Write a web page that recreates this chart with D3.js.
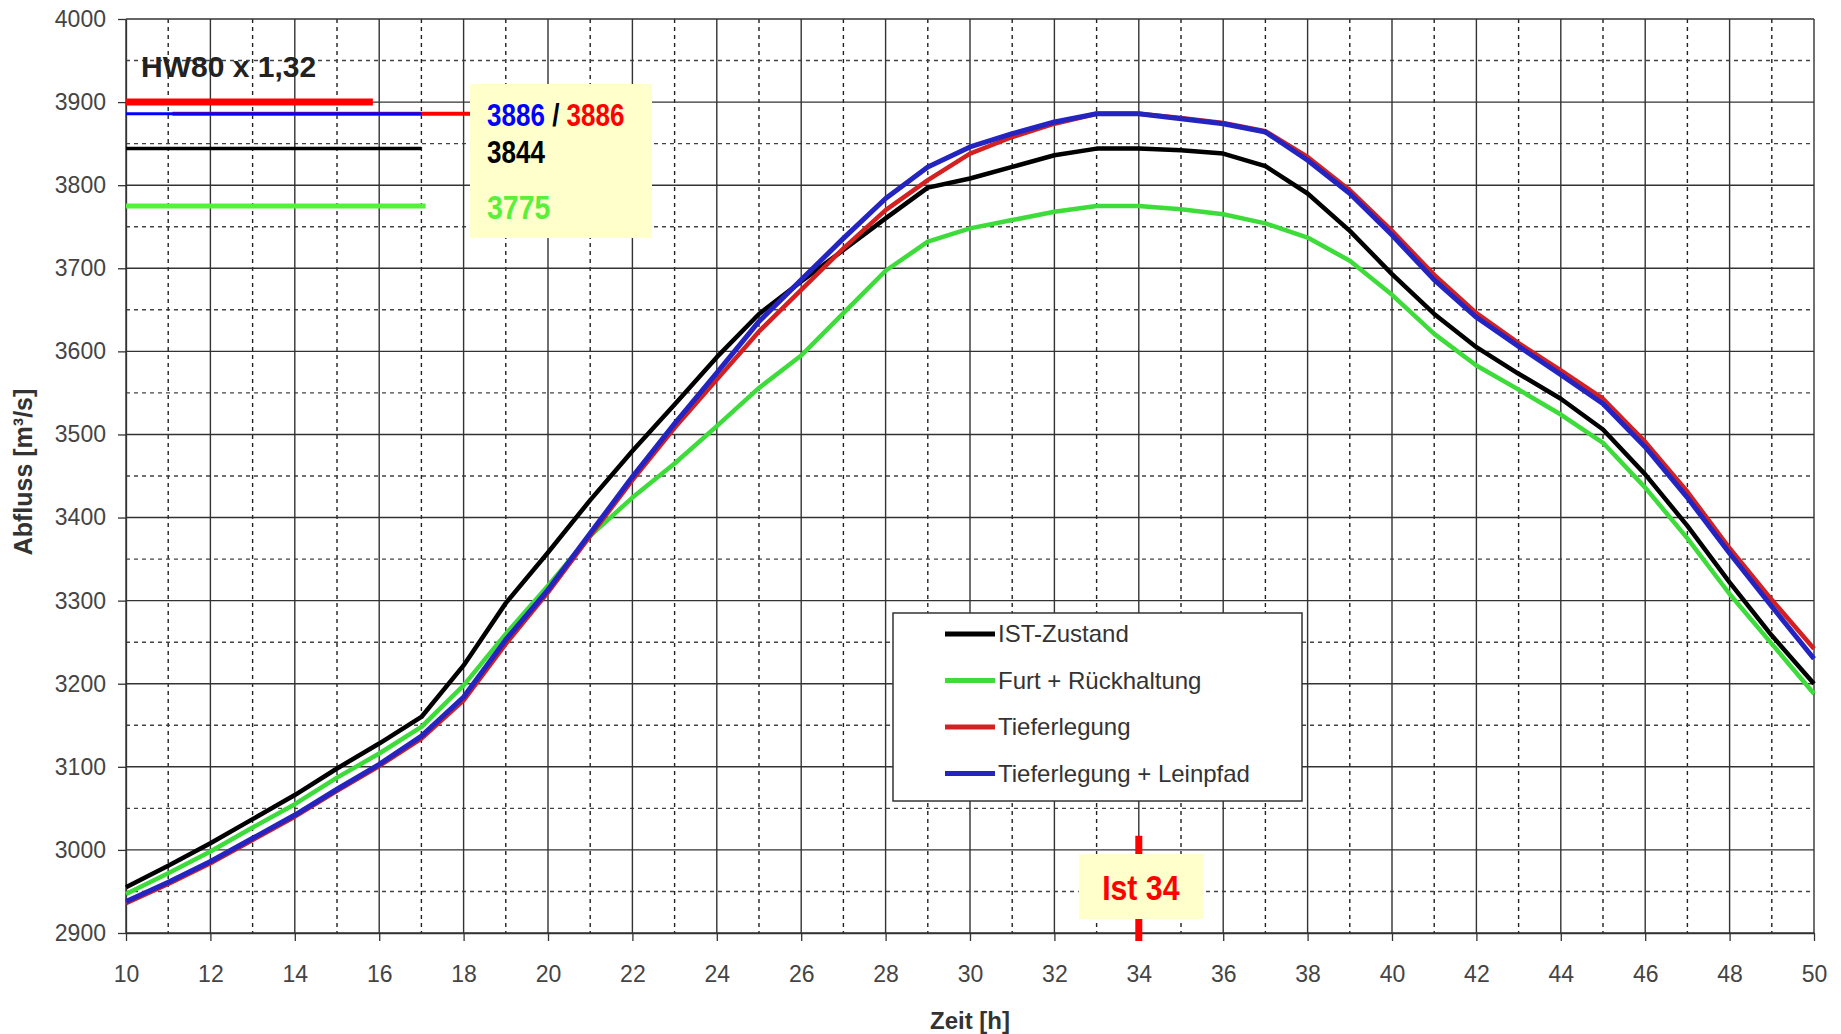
<!DOCTYPE html>
<html>
<head>
<meta charset="utf-8">
<script src="https://cdnjs.cloudflare.com/ajax/libs/d3/7.8.5/d3.min.js"></script>
<style>
body { margin: 0; background: #fff; }
svg { display: block; font-family: "Liberation Sans", Arial, sans-serif; }
.narrow { font-family: "Liberation Sans Narrow", "Arial Narrow", "Liberation Sans", sans-serif; font-weight: bold; }
.axis text { font-size: 23px; fill: #444; }
.axis line, .axis path { stroke: #333; stroke-width: 1.3; }
</style>
</head>
<body>
<script>
// data
var hours = [10, 11, 12, 13, 14, 15, 16, 17, 18, 19, 20, 21, 22, 23, 24, 25, 26, 27, 28, 29, 30,
             31, 32, 33, 34, 35, 36, 37, 38, 39, 40, 41, 42, 43, 44, 45, 46, 47, 48, 49, 50];
var istZustand = [2955, 2981, 3008, 3037, 3066, 3098, 3128, 3160, 3222, 3297, 3358, 3421, 3480, 3536,
                  3593, 3645, 3684, 3722, 3760, 3797, 3808, 3822, 3836, 3844, 3844, 3842, 3838, 3823,
                  3790, 3745, 3693, 3645, 3605, 3573, 3543, 3506, 3452, 3390, 3322, 3258, 3200];
var furtRueckhaltung = [2947, 2972, 2998, 3027, 3055, 3087, 3116, 3148, 3198, 3260, 3318, 3378, 3424, 3465,
                        3510, 3556, 3595, 3646, 3697, 3732, 3748, 3758, 3768, 3775, 3775, 3771, 3765, 3754,
                        3737, 3709, 3668, 3621, 3583, 3554, 3524, 3490, 3436, 3375, 3308, 3248, 3188];
var tieferlegung = [2936, 2959, 2984, 3012, 3040, 3071, 3101, 3134, 3180, 3248, 3310, 3378, 3445, 3508,
                    3566, 3624, 3674, 3724, 3770, 3806, 3838, 3858, 3874, 3886, 3886, 3881, 3875, 3865,
                    3834, 3794, 3745, 3692, 3646, 3610, 3577, 3543, 3491, 3431, 3363, 3301, 3242];
var tiefLeinpfad = [2938, 2961, 2986, 3014, 3042, 3073, 3103, 3137, 3184, 3253, 3313, 3381, 3449, 3513,
                    3574, 3636, 3686, 3736, 3784, 3822, 3846, 3862, 3876, 3886, 3886, 3880, 3874, 3864,
                    3830, 3790, 3740, 3686, 3641, 3606, 3572, 3537, 3485, 3424, 3357, 3293, 3230];

var seriesNames = ["IST-Zustand", "Furt + Rückhaltung", "Tieferlegung", "Tieferlegung + Leinpfad"];
var seriesValues = [istZustand, furtRueckhaltung, tieferlegung, tiefLeinpfad];
var seriesColors = ["#000000", "#3ddc3a", "#d42020", "#2424c0"];
var drawOrder = [1, 0, 2, 3];

var peakValues = [3844, 3775, 3886, 3886];
var referenceValue = 3900;
var scenarioTitle = "HW80 x 1,32";
var markHour = 34;
var markLabel = "Ist 34";

var xTicks = [10, 12, 14, 16, 18, 20, 22, 24, 26, 28, 30, 32, 34, 36, 38, 40, 42, 44, 46, 48, 50];
var yTicks = [2900, 3000, 3100, 3200, 3300, 3400, 3500, 3600, 3700, 3800, 3900, 4000];

// speelveld
var margin = {top: 19, right: 27, bottom: 101, left: 126},
    width = 1841 - margin.left - margin.right,
    height = 1034 - margin.top - margin.bottom;

var x = d3.scaleLinear().domain([10, 50]).range([0, width]);
var y = d3.scaleLinear().domain([2900, 4000]).range([height, 0]);

var svg = d3.select("body").append("svg")
    .attr("width", width + margin.left + margin.right)
    .attr("height", height + margin.top + margin.bottom)
  .append("g")
    .attr("transform", "translate(" + margin.left + "," + margin.top + ")");

// grid
var grid = svg.append("g");
grid.selectAll(".vmin")
    .data(d3.range(11, 50, 2))
  .enter().append("line")
    .attr("x1", function(d) { return x(d); })
    .attr("x2", function(d) { return x(d); })
    .attr("y1", 0).attr("y2", height)
    .attr("stroke", "#222").attr("stroke-width", 1.4)
    .attr("stroke-dasharray", "4,4");
grid.selectAll(".hmin")
    .data(d3.range(2950, 4000, 100))
  .enter().append("line")
    .attr("x1", 0).attr("x2", width)
    .attr("y1", function(d) { return y(d); })
    .attr("y2", function(d) { return y(d); })
    .attr("stroke", "#444").attr("stroke-width", 1.4)
    .attr("stroke-dasharray", "4,4");
grid.selectAll(".vmaj")
    .data(xTicks)
  .enter().append("line")
    .attr("x1", function(d) { return x(d); })
    .attr("x2", function(d) { return x(d); })
    .attr("y1", 0).attr("y2", height)
    .attr("stroke", "#333").attr("stroke-width", 1.4);
grid.selectAll(".hmaj")
    .data(yTicks)
  .enter().append("line")
    .attr("x1", 0).attr("x2", width)
    .attr("y1", function(d) { return y(d); })
    .attr("y2", function(d) { return y(d); })
    .attr("stroke", "#333").attr("stroke-width", 1.4);

// assen
svg.append("g")
    .attr("class", "axis")
    .attr("transform", "translate(0," + height + ")")
    .call(d3.axisBottom(x).tickValues(xTicks).tickSize(8).tickSizeOuter(0).tickPadding(25).tickFormat(d3.format("d")));

svg.append("g")
    .attr("class", "axis")
    .call(d3.axisLeft(y).tickValues(yTicks).tickSize(8).tickSizeOuter(0).tickPadding(12).tickFormat(d3.format("d")));

svg.append("text")
    .attr("x", width / 2)
    .attr("y", height + 96)
    .attr("text-anchor", "middle")
    .style("font-size", "24px")
    .style("font-weight", "bold")
    .attr("fill", "#333")
    .text("Zeit [h]");

svg.append("text")
    .attr("transform", "rotate(-90)")
    .attr("x", -453)
    .attr("y", -94)
    .attr("text-anchor", "middle")
    .style("font-size", "25px")
    .style("font-weight", "bold")
    .attr("fill", "#333")
    .text("Abfluss [m³/s]");

// lijnen
var valueLine = function(values) {
  return d3.line()
      .x(function(d, i) { return x(hours[i]); })
      .y(function(d) { return y(d); })(values);
};

drawOrder.forEach(function(k) {
  svg.append("path")
      .attr("d", valueLine(seriesValues[k]))
      .attr("fill", "none")
      .attr("stroke", seriesColors[k])
      .attr("stroke-width", k == 3 ? 5 : 4.5)
      .attr("stroke-linejoin", "round");
});

// titel + spitzenwerte links
svg.append("text")
    .attr("x", 15)
    .attr("y", 58)
    .style("font-size", "30px")
    .style("font-weight", "bold")
    .attr("fill", "#222")
    .text(scenarioTitle);

svg.append("line")
    .attr("x1", x(10)).attr("x2", x(15.85))
    .attr("y1", y(referenceValue)).attr("y2", y(referenceValue))
    .attr("stroke", "#ff0000").attr("stroke-width", 7);

svg.append("line")
    .attr("x1", x(11.1)).attr("x2", 346)
    .attr("y1", y(peakValues[2])).attr("y2", y(peakValues[2]))
    .attr("stroke", "#ff0000").attr("stroke-width", 4);

svg.append("line")
    .attr("x1", x(10)).attr("x2", x(17))
    .attr("y1", y(peakValues[3])).attr("y2", y(peakValues[3]))
    .attr("stroke", "#0000ff").attr("stroke-width", 3);

svg.append("line")
    .attr("x1", x(10)).attr("x2", x(17))
    .attr("y1", y(peakValues[0])).attr("y2", y(peakValues[0]))
    .attr("stroke", "#000").attr("stroke-width", 3.5);

svg.append("line")
    .attr("x1", x(10)).attr("x2", x(17.1))
    .attr("y1", y(peakValues[1])).attr("y2", y(peakValues[1]))
    .attr("stroke", "#55f03a").attr("stroke-width", 5);

var peakBox = svg.append("g").attr("transform", "translate(344,65)");
peakBox.append("rect")
    .attr("width", 182).attr("height", 154)
    .attr("fill", "#ffffcc");

// smalle letters via horizontale schaal
var t1 = peakBox.append("text")
    .attr("class", "narrow")
    .attr("transform", "translate(17,42) scale(0.84,1)")
    .style("font-size", "31px");
t1.append("tspan").attr("fill", "#0000ff").text(peakValues[3]);
t1.append("tspan").attr("fill", "#000").text(" / ");
t1.append("tspan").attr("fill", "#ff0000").text(peakValues[2]);

peakBox.append("text")
    .attr("class", "narrow")
    .attr("transform", "translate(17,79) scale(0.84,1)")
    .style("font-size", "31px")
    .attr("fill", "#000")
    .text(peakValues[0]);

peakBox.append("text")
    .attr("class", "narrow")
    .attr("transform", "translate(17,135) scale(0.84,1)")
    .style("font-size", "34px")
    .attr("fill", "#5af03a")
    .text(peakValues[1]);

// legenda
var legend = svg.append("g").attr("transform", "translate(767,594)");
legend.append("rect")
    .attr("width", 409).attr("height", 188)
    .attr("fill", "#fff")
    .attr("stroke", "#333").attr("stroke-width", 1.5);

seriesNames.forEach(function(name, i) {
  var ly = 21 + i * 46.5;
  legend.append("line")
      .attr("x1", 52).attr("x2", 102)
      .attr("y1", ly).attr("y2", ly)
      .attr("stroke", seriesColors[i]).attr("stroke-width", 5);
  legend.append("text")
      .attr("x", 105).attr("y", ly)
      .attr("dy", "0.35em")
      .style("font-size", "24px")
      .attr("fill", "#333")
      .text(name);
});

// markering ist 34
svg.append("line")
    .attr("x1", x(markHour)).attr("x2", x(markHour))
    .attr("y1", y(3017)).attr("y2", height + 8)
    .attr("stroke", "#ff0000").attr("stroke-width", 7);

svg.append("rect")
    .attr("x", x(markHour) - 60)
    .attr("y", 835)
    .attr("width", 125).attr("height", 65)
    .attr("fill", "#ffffcc");

svg.append("text")
    .attr("class", "narrow")
    .attr("transform", "translate(" + (x(markHour) + 2) + ",881) scale(0.84,1)")
    .attr("text-anchor", "middle")
    .style("font-size", "36px")
    .attr("fill", "#ff0000")
    .text(markLabel);
</script>
</body>
</html>
